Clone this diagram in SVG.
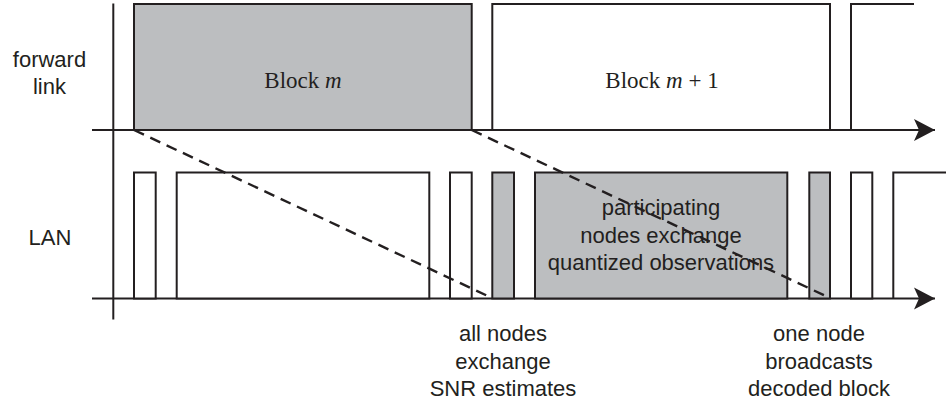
<svg xmlns="http://www.w3.org/2000/svg" width="946" height="406" viewBox="0 0 946 406">
<style>
.ln{fill:none;stroke:#231f20;stroke-width:2}
.gr{fill:#bcbec0;stroke:#231f20;stroke-width:2}
.wh{fill:#ffffff;stroke:#231f20;stroke-width:2}
.ds{fill:none;stroke:#231f20;stroke-width:2.4;stroke-dasharray:11 7}
.sans{font-family:"Liberation Sans",Arial,sans-serif;font-size:22px;fill:#231f20;text-anchor:middle}
.serif{font-family:"Liberation Serif","Times New Roman",serif;font-size:23px;fill:#231f20;text-anchor:middle}
</style>
<defs>
<marker id="arr" markerWidth="22" markerHeight="24" refX="21" refY="12" orient="auto" markerUnits="userSpaceOnUse">
<path d="M0,1 L21,12 L0,23 L5,12 Z" fill="#231f20"/>
</marker>
</defs>
<rect width="946" height="406" fill="#ffffff"/>
<g id="axes">
<line class="ln" x1="113.3" y1="3.5" x2="113.3" y2="319.5"/>
<line class="ln" x1="92" y1="130" x2="935" y2="130" marker-end="url(#arr)"/>
<line class="ln" x1="92" y1="298.5" x2="935" y2="298.5" marker-end="url(#arr)"/>
</g>
<g id="labels">
<text class="sans" x="49.5" y="66.7">forward</text>
<text class="sans" x="49.5" y="94">link</text>
<text class="sans" x="50" y="245">LAN</text>
</g>
<g id="block-m">
<rect class="gr" x="134" y="4" width="337.7" height="126"/>
<text class="serif" x="303" y="88">Block <tspan font-style="italic">m</tspan></text>
</g>
<g id="block-m1">
<rect class="wh" x="492.3" y="4" width="337.7" height="126"/>
<text class="serif" x="662" y="88">Block <tspan font-style="italic">m</tspan> + 1</text>
</g>
<g id="block-next">
<path class="ln" d="M851,130 V4 H914"/>
</g>
<g id="lan-slots">
<rect class="wh" x="134" y="172.5" width="21.7" height="126"/>
<rect class="wh" x="176.7" y="172.5" width="252.6" height="126"/>
<rect class="wh" x="450" y="172.5" width="21.7" height="126"/>
<rect class="wh" x="851" y="172.5" width="21.3" height="126"/>
<path class="ln" d="M893.3,298.5 V172.5 H946"/>
</g>
<g id="snr-slot">
<rect class="gr" x="492.3" y="172.5" width="21.7" height="126"/>
</g>
<g id="exchange-slot">
<rect class="gr" x="535" y="172.5" width="252.3" height="126"/>
<text class="sans" x="661" y="215">participating</text>
<text class="sans" x="661" y="242.5">nodes exchange</text>
<text class="sans" x="661" y="270">quantized observations</text>
</g>
<g id="broadcast-slot">
<rect class="gr" x="809.3" y="172.5" width="20.7" height="126"/>
</g>
<g id="connectors">
<line class="ds" x1="134" y1="130" x2="492" y2="298"/>
<line class="ds" x1="471.7" y1="130" x2="830" y2="298"/>
</g>
<g id="bottom-notes">
<text class="sans" x="503" y="341">all nodes</text>
<text class="sans" x="503" y="368.5">exchange</text>
<text class="sans" x="503" y="396">SNR estimates</text>
<text class="sans" x="819" y="341">one node</text>
<text class="sans" x="819" y="368.5">broadcasts</text>
<text class="sans" x="819" y="396">decoded block</text>
</g>
</svg>
